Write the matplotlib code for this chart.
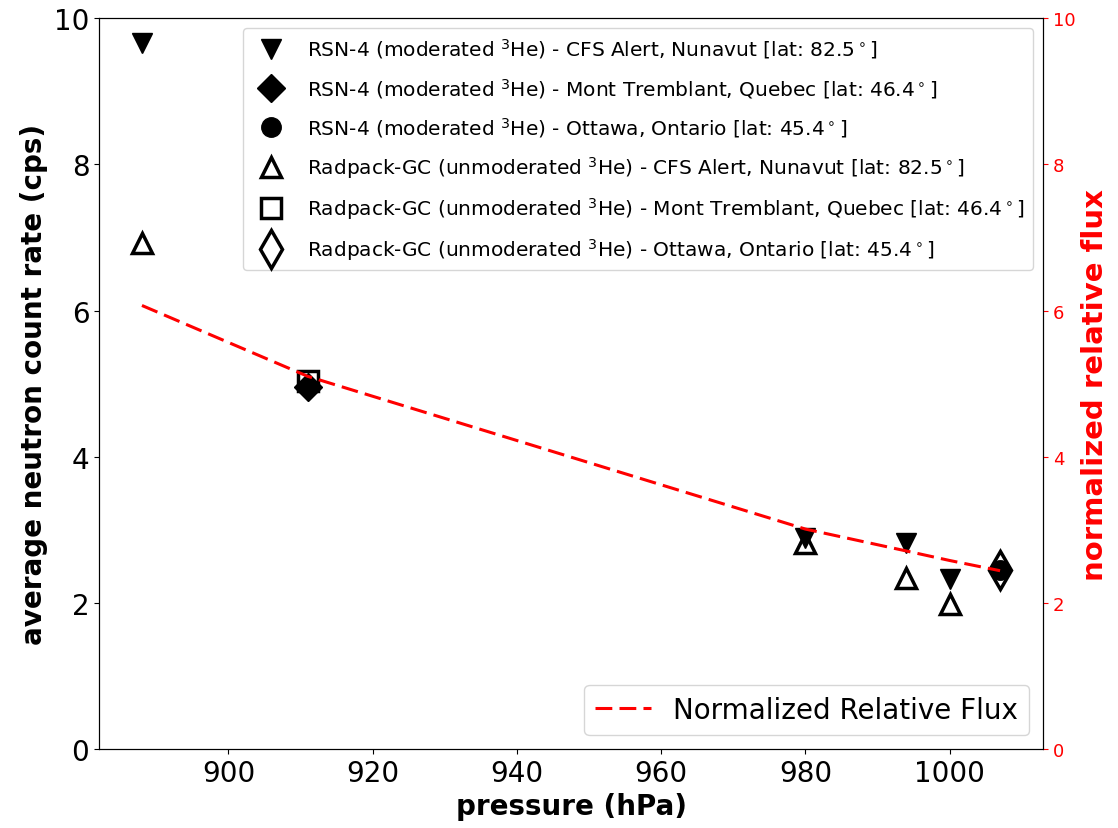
import matplotlib
matplotlib.use("Agg")
import matplotlib.pyplot as plt

# CFS Alert, Nunavut
alert_p = [888, 980, 994, 1000]
alert_rsn = [9.66, 2.89, 2.82, 2.32]
alert_radpack = [6.93, 2.82, 2.34, 1.99]

# Mont Tremblant, Quebec
tremblant_p = [911]
tremblant_rsn = [4.95]
tremblant_radpack = [5.03]

# Ottawa, Ontario
ottawa_p = [1007]
ottawa_rsn = [2.45]
ottawa_radpack = [2.45]

# normalized relative flux (right axis)
flux_p = [888, 911, 980, 994, 1000, 1007]
flux = [6.07, 5.10, 3.01, 2.71, 2.58, 2.44]

fig = plt.figure(figsize=(11.18, 8.29), dpi=100)
ax = fig.add_axes([0.0886, 0.0953, 0.8443, 0.8814])

ax.plot(alert_p, alert_rsn, "v", color="black", ms=15, ls="none",
        label="RSN-4 (moderated $^3$He) - CFS Alert, Nunavut [lat: 82.5$^\\circ$]")
ax.plot(tremblant_p, tremblant_rsn, "D", color="black", ms=14, ls="none",
        label="RSN-4 (moderated $^3$He) - Mont Tremblant, Quebec [lat: 46.4$^\\circ$]")
ax.plot(ottawa_p, ottawa_rsn, "o", color="black", ms=14, ls="none",
        label="RSN-4 (moderated $^3$He) - Ottawa, Ontario [lat: 45.4$^\\circ$]")
ax.plot(alert_p, alert_radpack, "^", mfc="none", mec="black", mew=2.5, ms=15, ls="none",
        label="Radpack-GC (unmoderated $^3$He) - CFS Alert, Nunavut [lat: 82.5$^\\circ$]")
ax.plot(tremblant_p, tremblant_radpack, "s", mfc="none", mec="black", mew=2.5, ms=15, ls="none",
        label="Radpack-GC (unmoderated $^3$He) - Mont Tremblant, Quebec [lat: 46.4$^\\circ$]")
ax.plot(ottawa_p, ottawa_radpack, "d", mfc="none", mec="black", mew=2.5, ms=19, ls="none",
        label="Radpack-GC (unmoderated $^3$He) - Ottawa, Ontario [lat: 45.4$^\\circ$]")

ax.set_ylim(0, 10)
ax.set_xlabel("pressure (hPa)", fontsize=20, fontweight="bold")
ax.set_ylabel("average neutron count rate (cps)", fontsize=20, fontweight="bold")
ax.tick_params(labelsize=20)
ax.legend(loc="upper right", fontsize=14.5, labelspacing=0.76)

ax2 = ax.twinx()
ax2.plot(flux_p, flux, color="red", ls="--", lw=2.2, dashes=(5.5, 2.35),
         label="Normalized Relative Flux")
ax2.set_ylim(0, 10)
ax2.set_ylabel("normalized relative flux", fontsize=21, fontweight="bold", color="red")
ax2.tick_params(axis="y", colors="red", labelsize=13)
ax2.spines["right"].set_color("black")
ax2.legend(loc="lower right", fontsize=20)

fig.savefig("out.png", dpi=100)
